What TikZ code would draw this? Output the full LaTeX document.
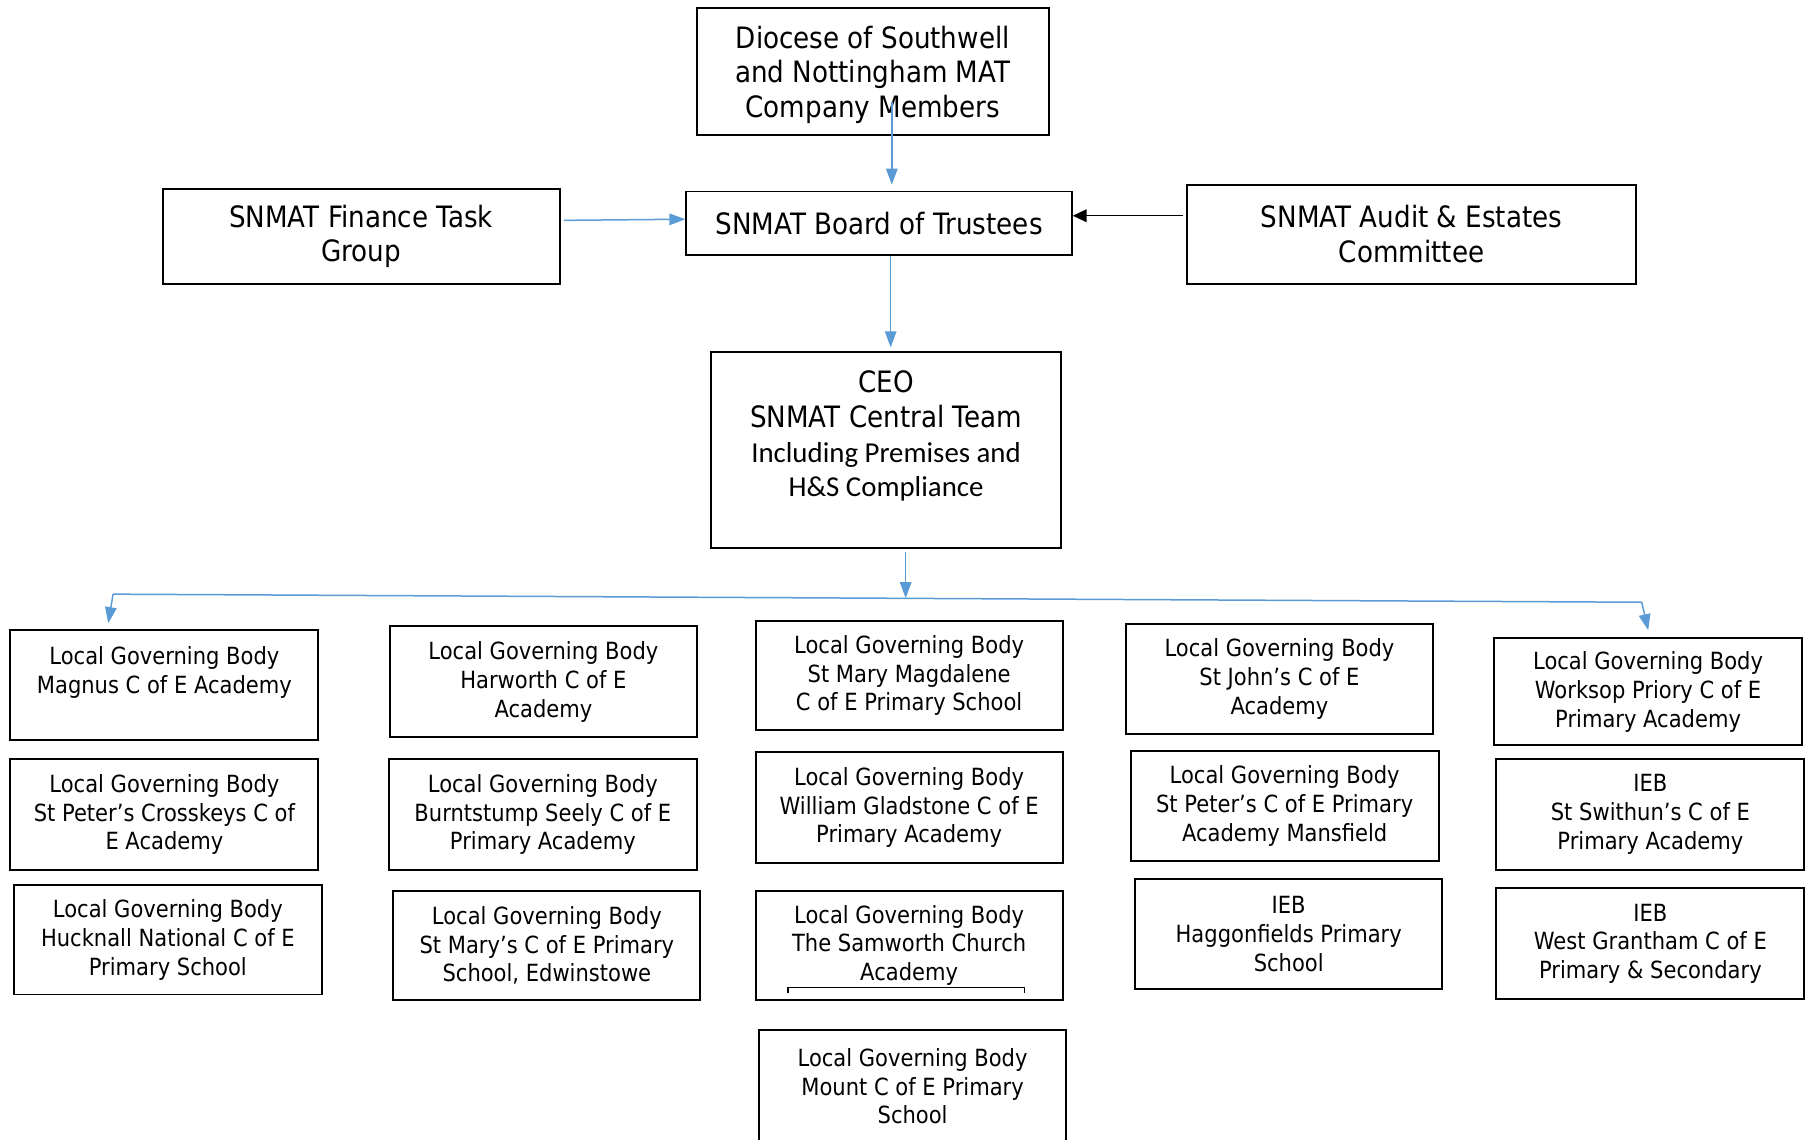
\documentclass[tikz,border=0pt]{standalone}
\usepackage{fontspec}
\setmainfont{DejaVu Sans}[FakeStretch=0.89]
\newfontfamily\carl{Carlito}
\usetikzlibrary{arrows.meta}
\definecolor{arrblue}{RGB}{91,155,213}
\newcommand{\tahS}{\fontsize{20.5}{25}\selectfont}
\newcommand{\tahL}{\fontsize{25.5}{30}\selectfont}
\newcommand{\carlL}{\carl\fontsize{25}{31}\selectfont}
\tikzset{
  box/.style={draw=black, line width=1.7pt, fill=white, inner sep=0pt, align=center, font=\tahS},
  topbox/.style={box, font=\tahL},
  barrow/.style={draw=arrblue, line width=1.3pt, -{Triangle[length=14pt,width=10pt]}},
  karrow/.style={draw=black, line width=1.3pt, -{Triangle[length=12pt,width=11pt]}},
  bline/.style={draw=arrblue, line width=1.3pt}
}
\begin{document}
\begin{tikzpicture}[x=1pt,y=-1pt]
\useasboundingbox (0,0) rectangle (1568,987.3);
% top boxes
\node[topbox, minimum width=305pt, minimum height=110pt] (dio) at (756.5,62) {Diocese of Southwell\\and Nottingham MAT\\Company Members\\[-30pt]\mbox{}};
\node[topbox, minimum width=344pt, minimum height=82pt] (fin) at (313,205) {SNMAT Finance Task\\Group};
\node[topbox, minimum width=334pt, minimum height=55pt] (brd) at (762,193.5) {SNMAT Board of Trustees};
\node[topbox, minimum width=389pt, minimum height=86pt] (aud) at (1223.5,203) {SNMAT Audit \& Estates\\Committee};
\node[topbox, minimum width=304pt, minimum height=170pt] (ceo) at (768,390) {CEO\\SNMAT Central Team\\[0pt]{\carlL Including Premises and}\\[0pt]{\carlL H\&S Compliance}\\[-2pt]\mbox{}};
% bottom boxes
\node[box, minimum width=267pt, minimum height=95pt] (c1a) at (142.5,593.5) {Local Governing Body\\Magnus C of E Academy\\\mbox{}};
\node[box, minimum width=267pt, minimum height=96pt] (c1b) at (142.5,706) {Local Governing Body\\St Peter’s Crosskeys C of\\E Academy};
\node[box, minimum width=267pt, minimum height=95pt] (c1c) at (145.5,814.5) {Local Governing Body\\Hucknall National C of E\\Primary School};
\node[box, minimum width=266pt, minimum height=96pt] (c2a) at (471,591) {Local Governing Body\\Harworth C of E\\Academy};
\node[box, minimum width=267pt, minimum height=96pt] (c2b) at (470.5,706) {Local Governing Body\\Burntstump Seely C of E\\Primary Academy};
\node[box, minimum width=266pt, minimum height=95pt] (c2c) at (474,819.5) {Local Governing Body\\St Mary’s C of E Primary\\School, Edwinstowe};
\node[box, minimum width=266pt, minimum height=95pt] (c3a) at (788,585.5) {Local Governing Body\\St Mary Magdalene\\C of E Primary School};
\node[box, minimum width=266pt, minimum height=96pt] (c3b) at (788,700) {Local Governing Body\\William Gladstone C of E\\Primary Academy};
\node[box, minimum width=266pt, minimum height=95pt] (c3c) at (788,819.5) {Local Governing Body\\The Samworth Church\\Academy};
\node[box, minimum width=266pt, minimum height=97pt] (c3d) at (791,941.5) {Local Governing Body\\Mount C of E Primary\\School};
\node[box, minimum width=266pt, minimum height=95pt] (c4a) at (1109,588.5) {Local Governing Body\\St John’s C of E\\Academy};
\node[box, minimum width=267pt, minimum height=95pt] (c4b) at (1113.5,698.5) {Local Governing Body\\St Peter’s C of E Primary\\Academy Mansfield};
\node[box, minimum width=266pt, minimum height=95pt] (c4c) at (1117,809.5) {IEB\\Haggonfields Primary\\School};
\node[box, minimum width=267pt, minimum height=93pt] (c5a) at (1428.5,599.5) {Local Governing Body\\Worksop Priory C of E\\Primary Academy};
\node[box, minimum width=267pt, minimum height=96pt] (c5b) at (1430.5,706) {IEB\\St Swithun’s C of E\\Primary Academy};
\node[box, minimum width=267pt, minimum height=96pt] (c5c) at (1430.5,818) {IEB\\West Grantham C of E\\Primary \& Secondary};
% underline mark in Samworth box
\draw[line width=1.3pt] (683,861) -- (683,856) -- (888,856) -- (888,861);
% connectors
\coordinate (dstart) at (773,88);
\draw[barrow, shorten >=5pt] (dstart) -- (brd.north -| dstart);
\draw[barrow] ([yshift=14pt,xshift=3pt]fin.east) -- ([yshift=3.5pt]brd.west);
\draw[karrow] ([yshift=16pt,xshift=-3pt]aud.west) -- ([yshift=6.5pt]brd.east);
\draw[barrow, shorten >=3pt] ([xshift=10pt]brd.south) -- ([xshift=4pt]ceo.north);
\coordinate (barL) at (98,515);
\coordinate (barR) at (1423,522);
\coordinate (barM) at (785,518.5);
\draw[bline] (barL) -- (barR);
\draw[barrow, shorten <=3pt] ([xshift=17pt]ceo.south) -- (barM);
\draw[barrow, shorten >=5pt] (barL) -- ([xshift=-49.5pt]c1a.north);
\draw[barrow, shorten >=6pt] (barR) -- ([xshift=1.5pt]c5a.north);
\end{tikzpicture}
\end{document}
